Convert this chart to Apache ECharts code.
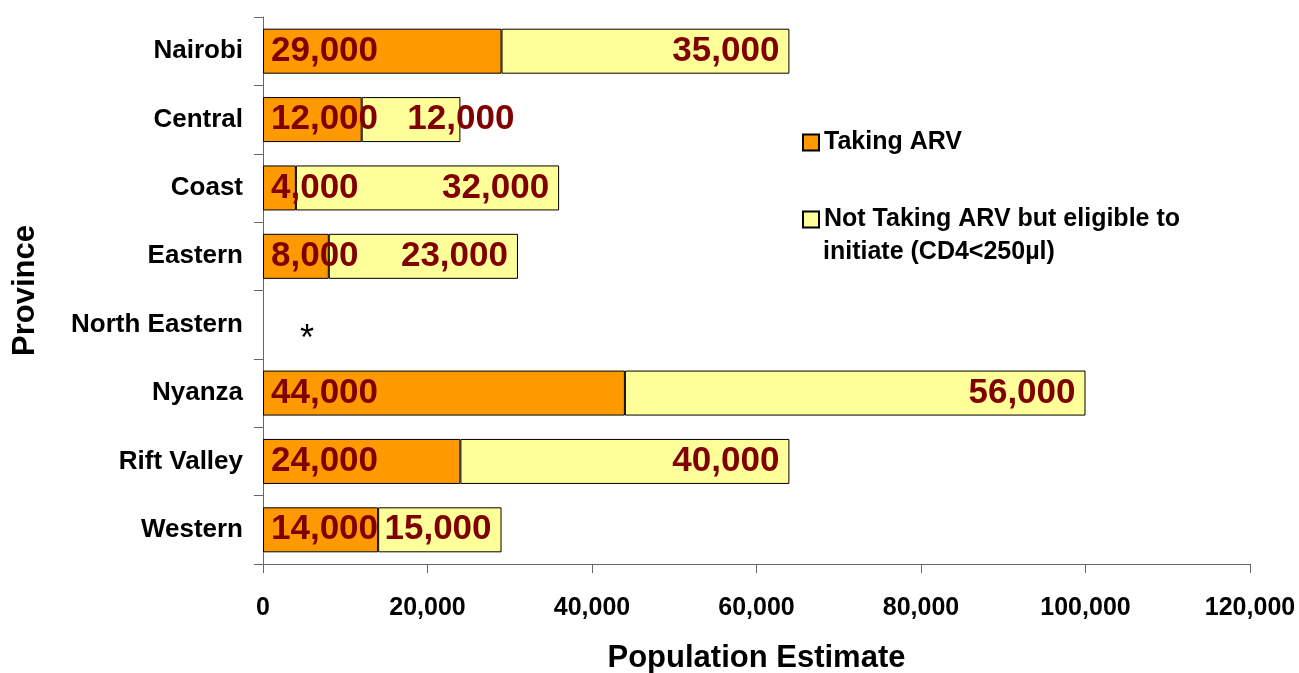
<!DOCTYPE html>
<html>
<head>
<meta charset="utf-8">
<script src="https://cdn.jsdelivr.net/npm/echarts@6/dist/echarts.min.js"></script>
<style>
  html, body { margin: 0; padding: 0; background: #fff; }
  #main { width: 1299px; height: 673px; }
</style>
</head>
<body>
<div id="main"></div>
<script>
var provinces = ['Nairobi', 'Central', 'Coast', 'Eastern', 'North Eastern', 'Nyanza', 'Rift Valley', 'Western'];
var takingArv = [29000, 12000, 4000, 8000, 0, 44000, 24000, 14000];
var notTakingArv = [35000, 12000, 32000, 23000, null, 56000, 40000, 15000];
var seriesNames = ['Taking ARV', 'Not Taking ARV but eligible to initiate (CD4<250\u00b5l)'];

var font = 'Liberation Sans, Arial, sans-serif';
var myChart = echarts.init(document.getElementById('main'));

function fmt(v) {
    return Number(v).toLocaleString('en-US');
}

var labelBase = {
    show: true,
    color: '#800000',
    fontFamily: font,
    fontWeight: 'bold',
    fontSize: 35,
    formatter: function (p) { return fmt(p.value); }
};

// North Eastern has no estimate, shown with an asterisk
var takingData = takingArv.map(function (v, i) {
    if (provinces[i] === 'North Eastern') {
        return {
            value: v,
            itemStyle: { borderWidth: 0 },
            label: {
                formatter: '*',
                color: '#000',
                fontWeight: 'normal',
                fontSize: 36,
                offset: [29, 15]
            }
        };
    }
    return v;
});

var notTakingData = notTakingArv.map(function (v, i) {
    if (v === null) return '-';
    if (provinces[i] === 'Central') {
        return { value: v, label: { offset: [64, 0] } };
    }
    return v;
});

var legendText = {
    fontFamily: font,
    fontWeight: 'bold',
    fontSize: 25,
    color: '#000'
};

option = {
    animation: false,
    grid: {
        left: 263,
        right: 49,
        top: 17,
        bottom: 109,
        containLabel: false,
        outerBoundsMode: 'none'
    },
    legend: [{
        orient: 'vertical',
        left: 797,
        top: 125,
        icon: 'rect',
        itemWidth: 16,
        itemHeight: 16,
        textStyle: legendText,
        data: [seriesNames[0]]
    }, {
        orient: 'vertical',
        left: 797,
        top: 202,
        icon: 'rect',
        itemWidth: 16,
        itemHeight: 16,
        formatter: function () {
            return 'Not Taking ARV but eligible to';
        },
        textStyle: legendText,
        data: [seriesNames[1]]
    }],
    graphic: [{
        type: 'text',
        left: 823,
        top: 240,
        style: {
            text: 'initiate (CD4<250\u00b5l)',
            font: 'bold 25px ' + font,
            fill: '#000'
        }
    }],
    xAxis: {
        type: 'value',
        min: 0,
        max: 120000,
        interval: 20000,
        name: 'Population Estimate',
        nameLocation: 'middle',
        nameGap: 79,
        nameTextStyle: {
            fontFamily: font,
            fontWeight: 'bold',
            fontSize: 31,
            color: '#000'
        },
        axisLine: { show: true, lineStyle: { color: '#666', width: 1 } },
        axisTick: { show: true, length: 9, lineStyle: { color: '#666' } },
        splitLine: { show: false },
        axisLabel: {
            margin: 32,
            fontFamily: font,
            fontWeight: 'bold',
            fontSize: 25,
            color: '#000',
            formatter: function (v) { return fmt(v); }
        }
    },
    yAxis: {
        type: 'category',
        inverse: true,
        data: provinces,
        name: 'Province',
        nameLocation: 'middle',
        nameRotate: 90,
        nameGap: 222,
        nameTextStyle: {
            fontFamily: font,
            fontWeight: 'bold',
            fontSize: 31,
            color: '#000'
        },
        axisLine: { show: true, lineStyle: { color: '#666', width: 1 } },
        axisTick: { show: true, length: 9, lineStyle: { color: '#666' } },
        axisLabel: {
            margin: 20,
            fontFamily: font,
            fontWeight: 'bold',
            fontSize: 26,
            color: '#000'
        }
    },
    series: [{
        name: seriesNames[0],
        type: 'bar',
        stack: 'total',
        barWidth: 45,
        itemStyle: { color: '#FF9900', borderColor: '#000', borderWidth: 1 },
        label: Object.assign({}, labelBase, { position: 'insideLeft', distance: 8 }),
        data: takingData
    }, {
        name: seriesNames[1],
        type: 'bar',
        stack: 'total',
        barWidth: 45,
        itemStyle: { color: '#FFFF99', borderColor: '#000', borderWidth: 1 },
        label: Object.assign({}, labelBase, { position: 'insideRight', distance: 10 }),
        data: notTakingData
    }]
};

myChart.setOption(option);
</script>
</body>
</html>
